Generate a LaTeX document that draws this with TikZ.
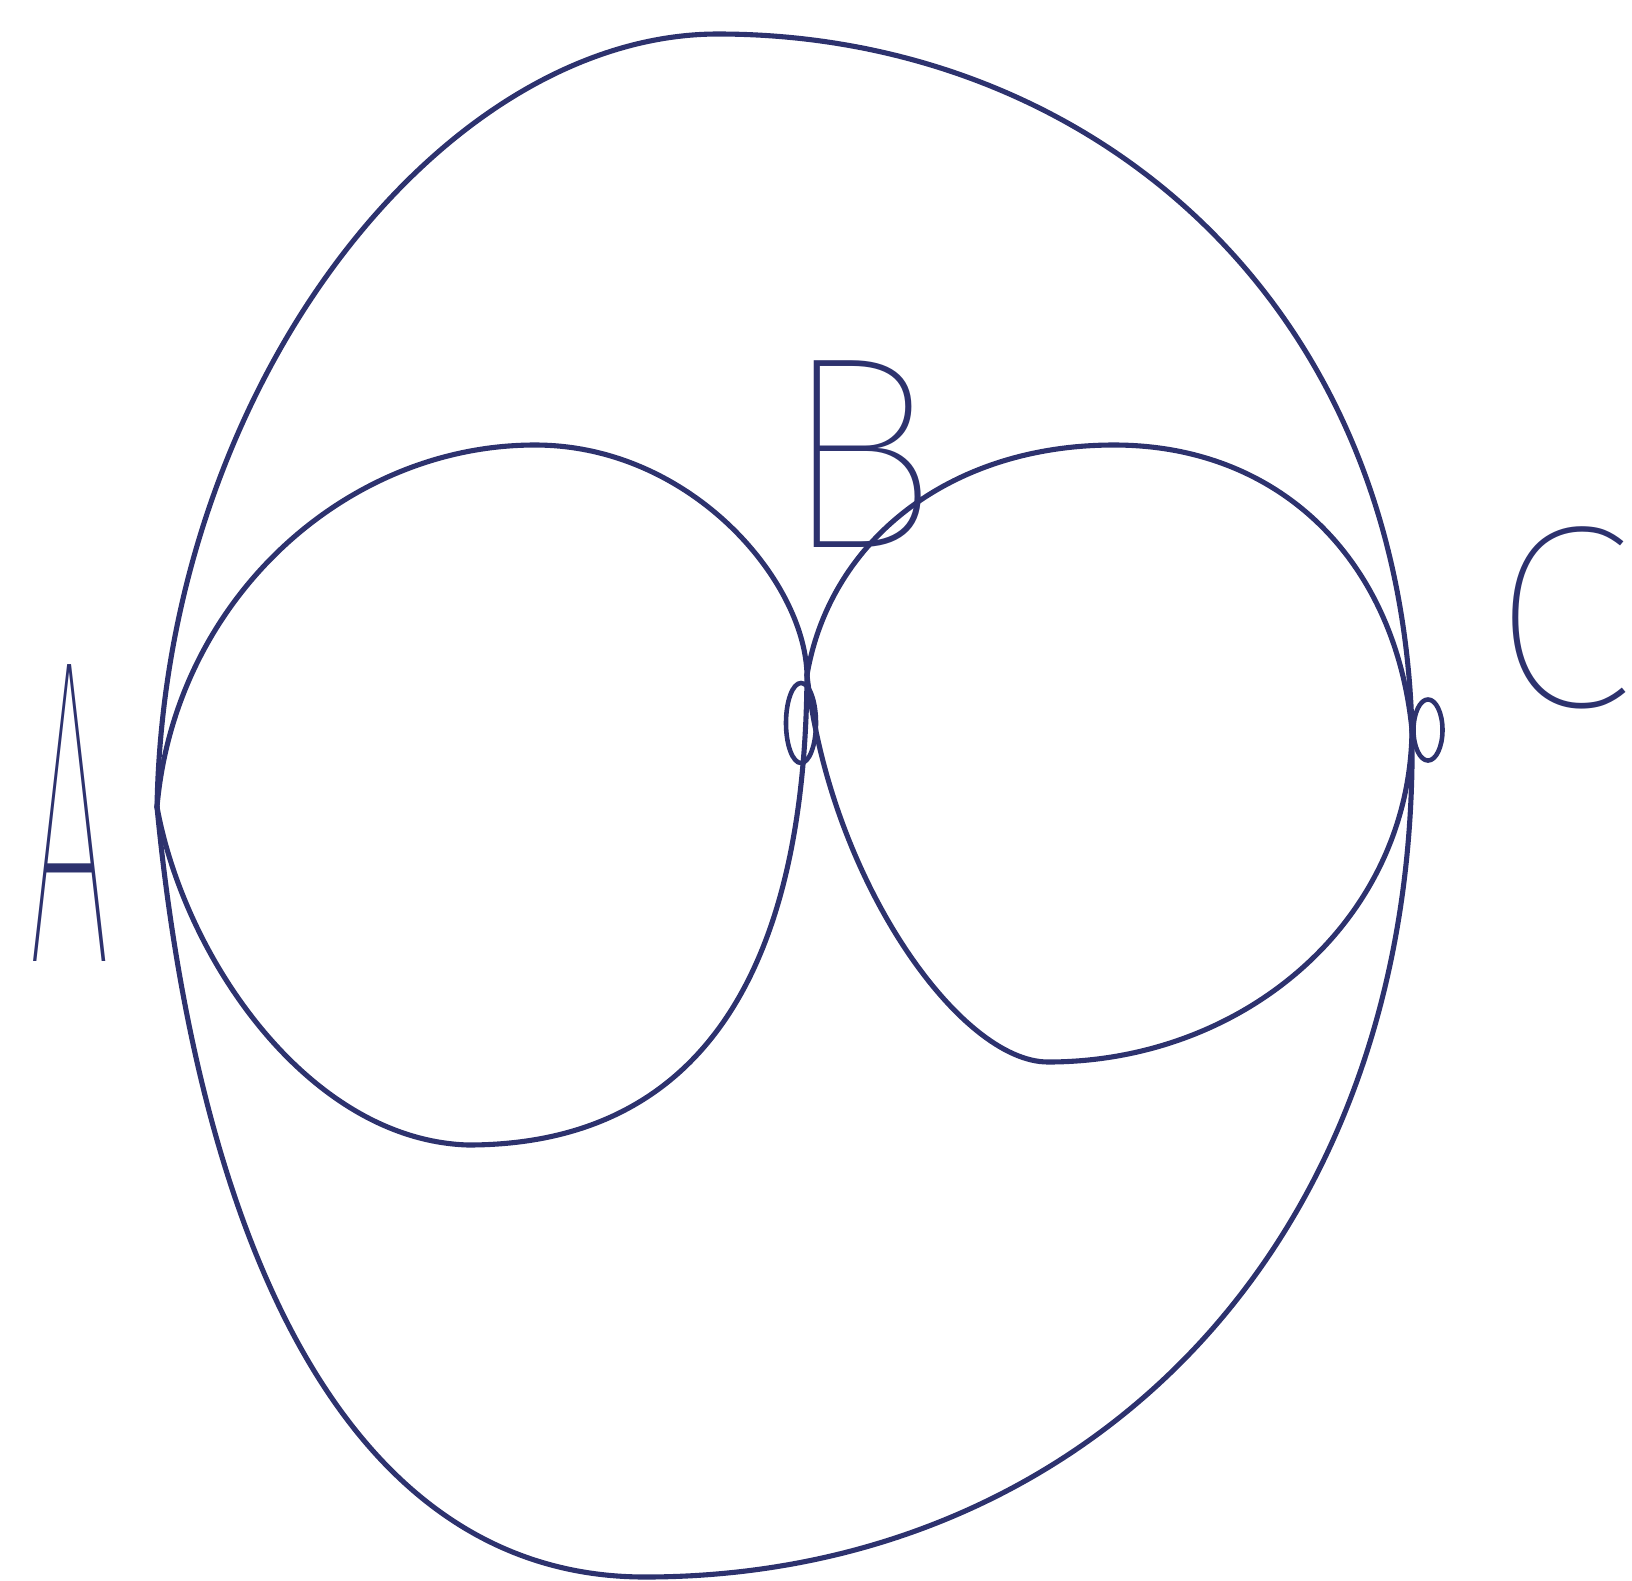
\documentclass[tikz,border=0pt]{standalone}
\usepackage{fontspec}
\usepackage{graphicx}
\usetikzlibrary{shapes.geometric}
\IfFontExistsTF{Fira Sans Thin}{\newfontfamily\handfont{Fira Sans Thin}}{\newfontfamily\handfont{Liberation Sans}}
\definecolor{ink}{RGB}{45,50,110}
\begin{document}
\begin{tikzpicture}[x=0.01cm,y=-0.01cm,
  edge/.style={draw=ink,line width=1.45pt,line cap=round,line join=round},
  vmark/.style={draw=ink,line width=1.3pt},
  lbl/.style={text=ink,inner sep=0pt,anchor=center}]
\useasboundingbox (0,0) rectangle (1632,1581);
\coordinate (A) at (157,807);
\coordinate (B) at (807,675);
\coordinate (C) at (1412,730);
\coordinate (top) at (718,34);
\coordinate (bot) at (645,1577);
\coordinate (lu) at (535,445);
\coordinate (ll) at (468,1145);
\coordinate (ru) at (1114,445);
\coordinate (rl) at (1048,1062);
% outer top arc A-C
\draw[edge] (A) .. controls (165,380) and (445,34) .. (top)
                .. controls (1080,34) and (1400,290) .. (C);
% outer bottom arc A-C
\draw[edge] (A) .. controls (200,1250) and (350,1577) .. (bot)
                .. controls (1080,1577) and (1420,1250) .. (C);
% left upper A-B
\draw[edge] (A) .. controls (175,600) and (345,445) .. (lu)
                .. controls (690,445) and (805,580) .. (B);
% left lower A-B
\draw[edge] (A) .. controls (185,960) and (310,1140) .. (ll)
                .. controls (680,1145) and (805,1000) .. (B);
% right upper B-C
\draw[edge] (B) .. controls (830,540) and (950,445) .. (ru)
                .. controls (1280,445) and (1395,560) .. (C);
% right lower B-C
\draw[edge] (B) .. controls (830,880) and (960,1062) .. (rl)
                .. controls (1245,1062) and (1410,920) .. (C);
% vertex marks
\node[vmark,ellipse,inner sep=0pt,minimum width=0.3cm,minimum height=0.8cm] (mb) at (801,723) {};
\node[vmark,ellipse,inner sep=0pt,minimum width=0.29cm,minimum height=0.61cm] (mc) at (1428,730) {};
% labels
\node[lbl,font=\handfont\fontsize{124pt}{124pt}\selectfont] (la) at (70,813) {\scalebox{0.33}[1]{A}};
\node[lbl,font=\handfont\fontsize{78pt}{78pt}\selectfont] (lb) at (860,454) {\scalebox{0.97}[1]{B}};
\node[lbl,font=\handfont\fontsize{74pt}{74pt}\selectfont] (lc) at (1562,618) {C};
\end{tikzpicture}
\end{document}
